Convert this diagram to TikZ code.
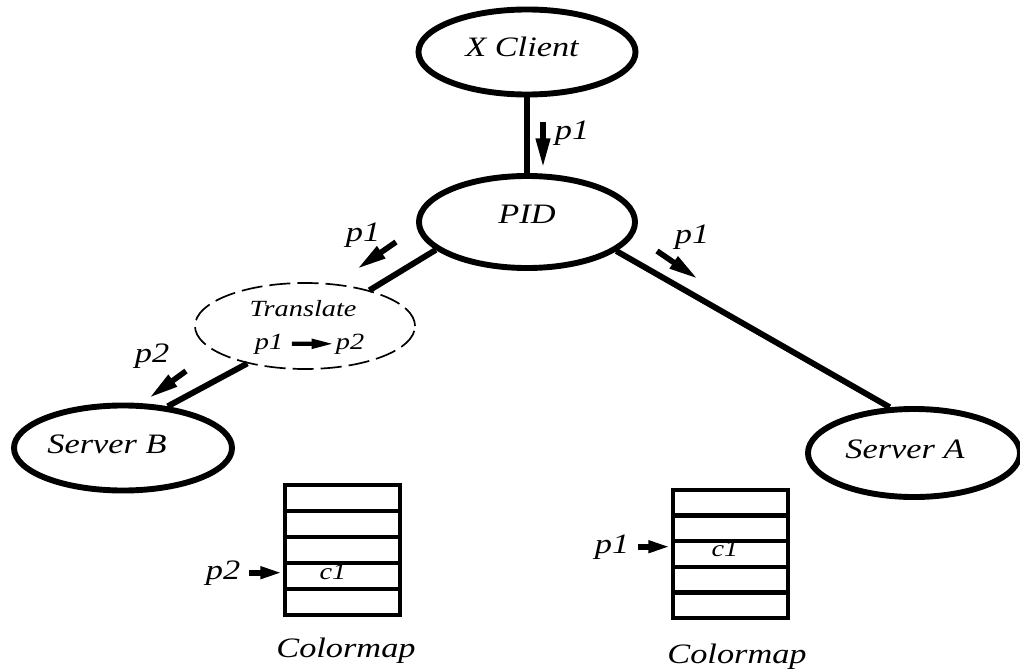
\documentclass[tikz,border=0pt]{standalone}
\usepackage{fontspec}
\setmainfont[FakeStretch=1.22]{Liberation Serif}
\usetikzlibrary{shapes.geometric,arrows.meta}
\tikzset{
  bigfont/.style={font=\itshape\fontsize{20}{23}\selectfont},
  smallfont/.style={font=\itshape\fontsize{16.5}{19}\selectfont},
  oval/.style={ellipse,draw,line width=4.2pt,inner sep=0pt},
  link/.style={line width=4.2pt},
  lbl/.style={bigfont,anchor=base,inner sep=1pt},
  slbl/.style={smallfont,anchor=base,inner sep=1pt},
  parrow/.style={line width=4pt,-{Triangle[length=21pt,width=9.5pt]}},
  carrow/.style={line width=4pt,-{Triangle[length=16pt,width=8pt]}},
  tarrow/.style={line width=3pt,-{Triangle[length=16pt,width=6.5pt]}},
  cell/.style={rectangle,draw,line width=3pt,minimum width=2.875cm,inner sep=0pt},
}
\begin{document}
\begin{tikzpicture}[x=0.025cm,y=-0.025cm]
\useasboundingbox (0,0) rectangle (1020,670);
% ellipses
\node[oval,minimum width=5.425cm,minimum height=2.125cm] (xc) at (527,52) {};
\node[oval,minimum width=5.4cm,minimum height=2.3cm] (pid) at (527,222) {};
\node[ellipse,draw,line width=1.2pt,dash pattern=on 15pt off 5pt,minimum width=5.5cm,minimum height=2.15cm,inner sep=0pt] (tr) at (305,326) {};
\node[oval,minimum width=5.45cm,minimum height=2.125cm] (sb) at (123,448) {};
\node[oval,minimum width=5.3cm,minimum height=2.2cm] (sa) at (914,453) {};
% texts
\node[lbl] (txc) at (522,57) {X Client};
\node[lbl] (tpid) at (527,223) {PID};
\node[lbl] (tsb) at (107,453) {Server B};
\node[lbl] (tsa) at (905,458) {Server A};
\node[slbl] (ttr) at (303,316) {Translate};
\node[slbl] (tp1) at (269,349) {p1};
\node[slbl] (tp2) at (350,349) {p2};
\draw[tarrow,shorten <=5pt] (tp1.east) -- (tp2.west);
% connectors
\draw[link] (xc.south) -- (pid.north);
\draw[link] (pid.197) -- (tr.29);
\draw[link] (tr.213) -- (sb.43);
\draw[link] (pid.342) -- (sa.118);
% flow labels
\node[lbl] (lp1top) at (572,140) {p1};
\node[lbl] (lp1l) at (363,241) {p1};
\node[lbl] (lp2l) at (152,362) {p2};
\node[lbl] (lp1r) at (692,243) {p1};
\coordinate (a1s) at (543,122); \coordinate (a1e) at (543,168);
\coordinate (a2s) at (396,242); \coordinate (a2e) at (357,269);
\coordinate (a3s) at (186,371); \coordinate (a3e) at (149,398);
\coordinate (a4s) at (657,251); \coordinate (a4e) at (698,279);
\draw[parrow] (a1s) -- (a1e);
\draw[parrow] (a2s) -- (a2e);
\draw[parrow] (a3s) -- (a3e);
\draw[parrow] (a4s) -- (a4e);
% colormap B
\node[cell,minimum height=0.65cm] (rb1) at (342.5,498) {};
\node[cell,minimum height=0.65cm] (rb2) at (342.5,524) {};
\node[cell,minimum height=0.65cm] (rb3) at (342.5,550) {};
\node[cell,minimum height=0.65cm] (rb4) at (342.5,576) {};
\node[cell,minimum height=0.65cm] (rb5) at (342.5,602) {};
\node[slbl] (cb) at (333,579) {c1};
\node[lbl] (lp2b) at (223,579) {p2};
\draw[carrow,shorten <=5pt] (lp2b.east) -- (lp2b.east -| rb4.west);
\node[lbl] (cmb) at (346,657) {Colormap};
% colormap A
\node[cell,minimum height=0.64cm] (ra1) at (730.5,502.8) {};
\node[cell,minimum height=0.64cm] (ra2) at (730.5,528.4) {};
\node[cell,minimum height=0.64cm] (ra3) at (730.5,554) {};
\node[cell,minimum height=0.64cm] (ra4) at (730.5,579.6) {};
\node[cell,minimum height=0.64cm] (ra5) at (730.5,605.2) {};
\node[slbl] (ca) at (725,556) {c1};
\node[lbl] (lp1a) at (612,553) {p1};
\draw[carrow,shorten <=5pt] (lp1a.east) -- (lp1a.east -| ra3.west);
\node[lbl] (cma) at (737,663) {Colormap};
\end{tikzpicture}
\end{document}
